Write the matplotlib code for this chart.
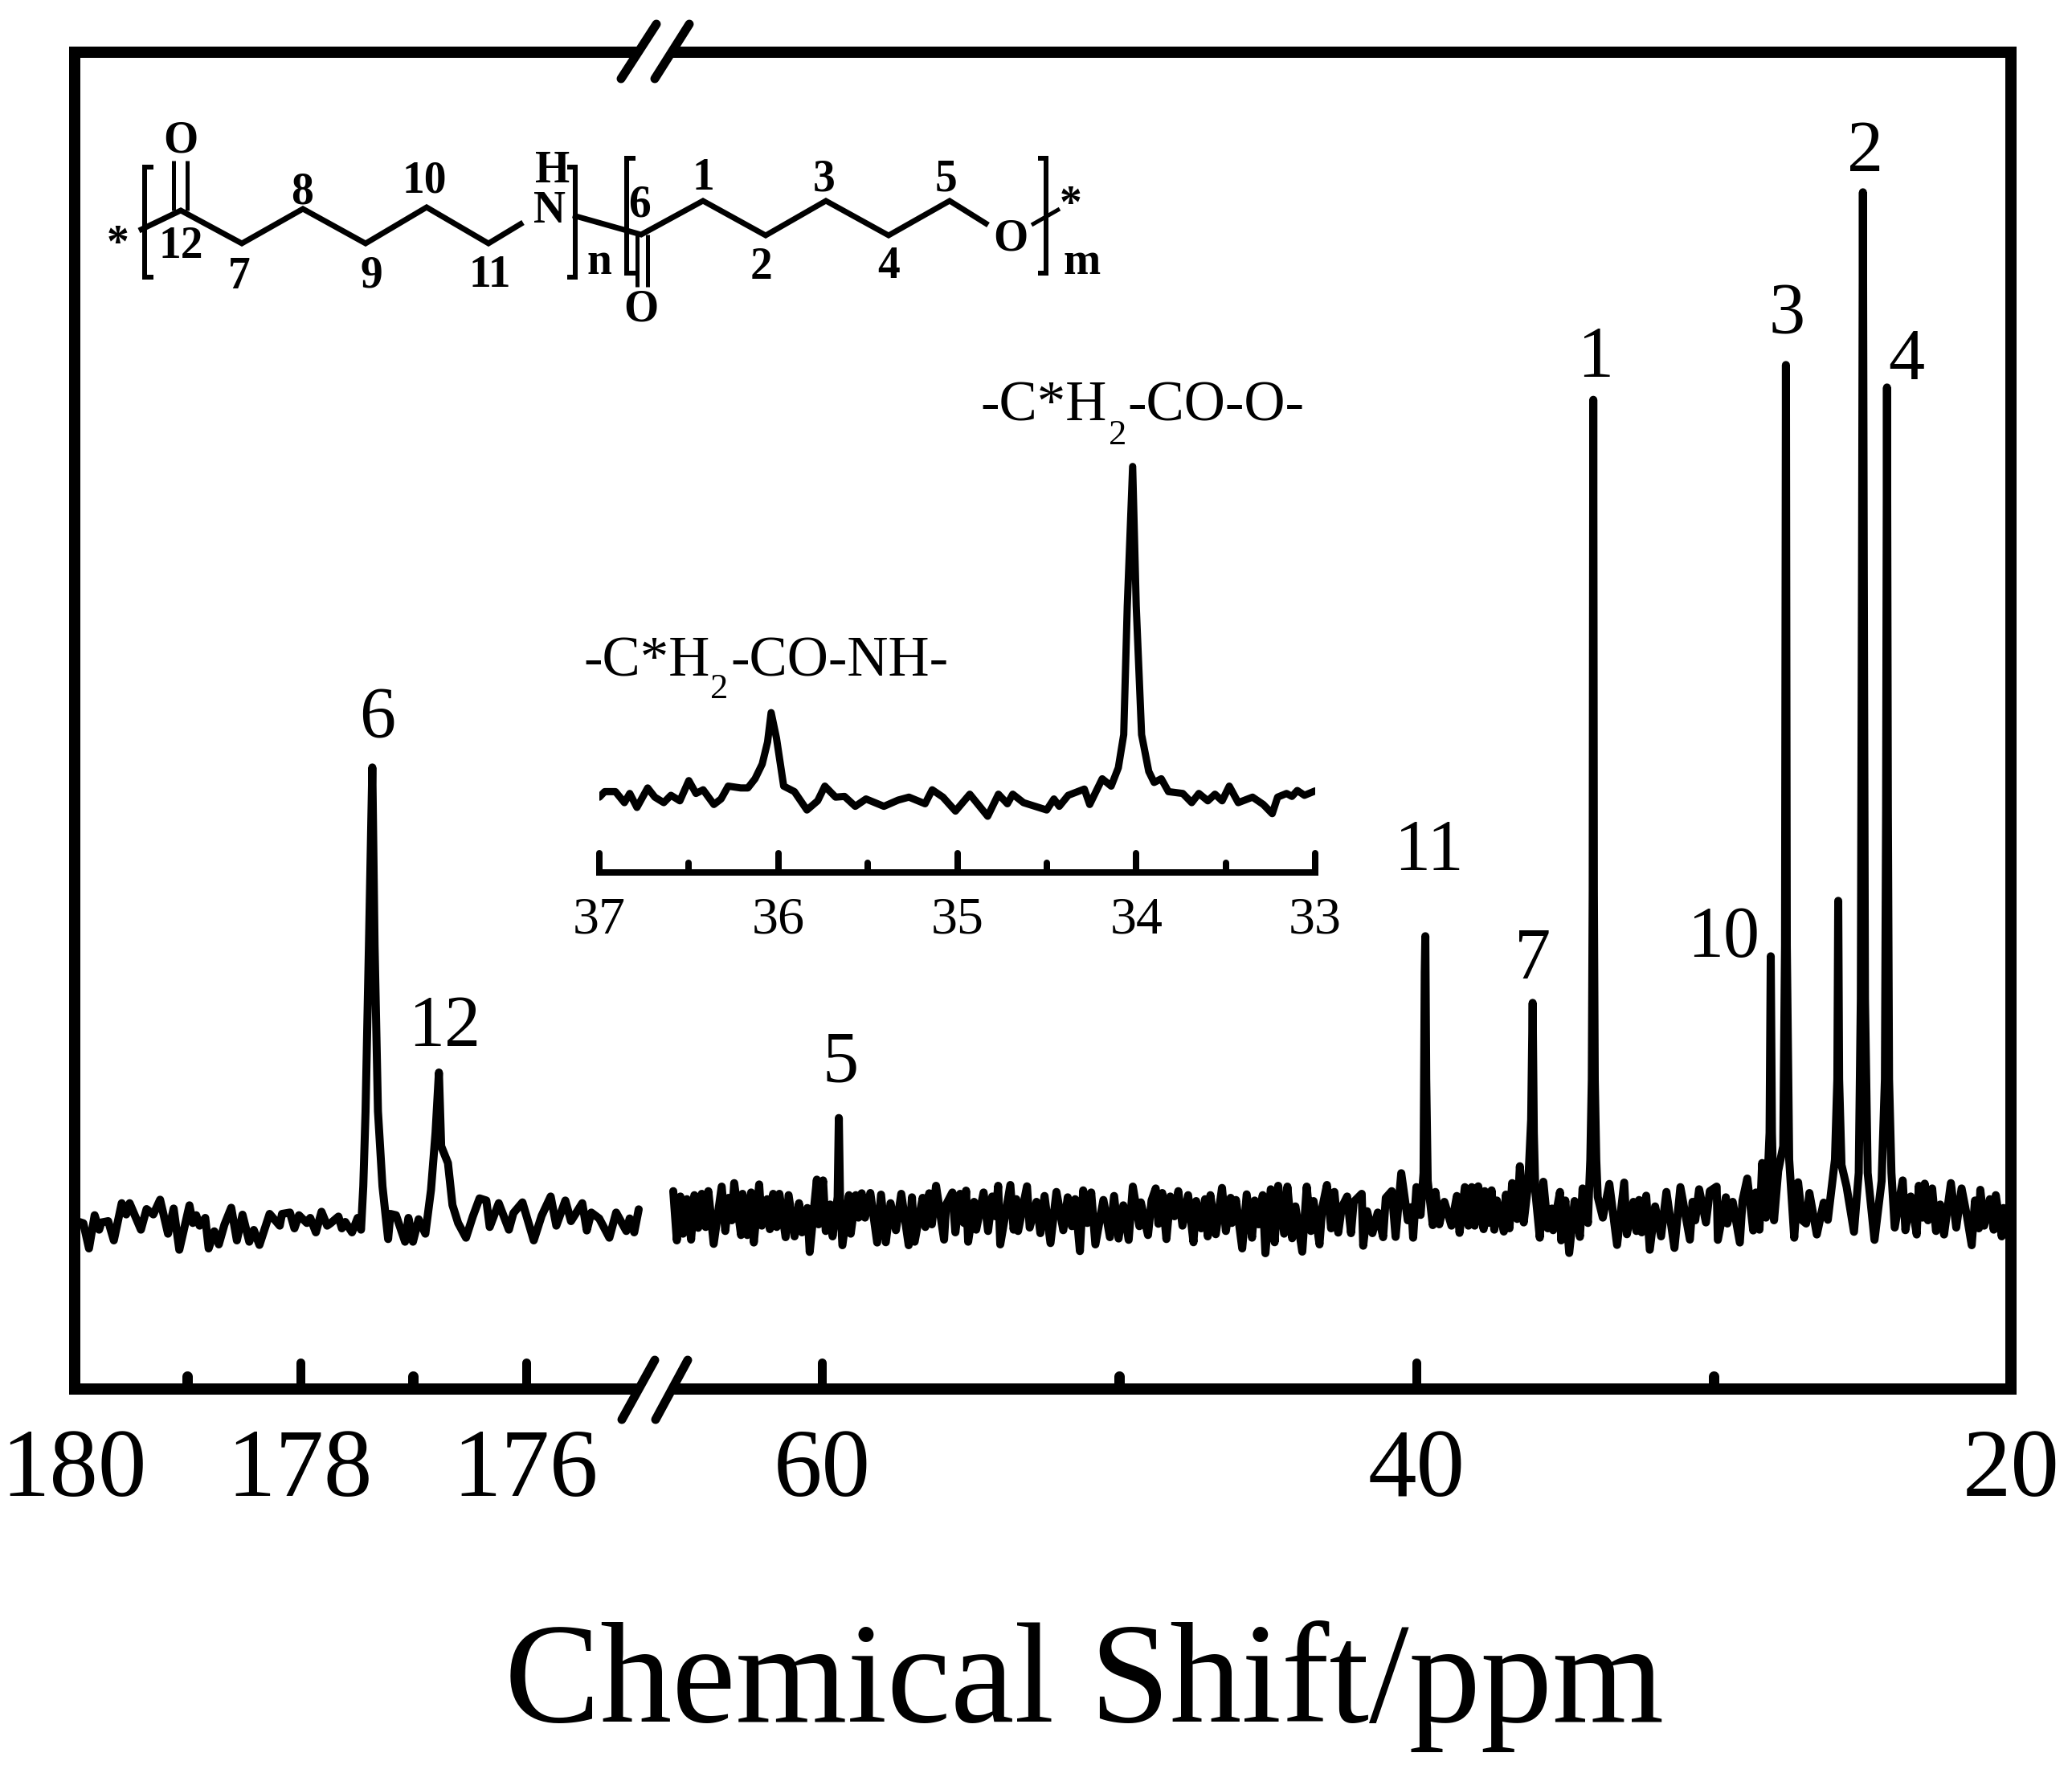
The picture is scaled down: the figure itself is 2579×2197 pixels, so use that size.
"""13C NMR spectrum with broken ppm axis, inset and polymer repeat unit sketch."""

import matplotlib
matplotlib.use("Agg")
import matplotlib.pyplot as plt
import numpy as np
from matplotlib.markers import MarkerStyle, TICKUP
from matplotlib.ticker import FixedLocator, NullFormatter

W, H = 2579, 2197
DPI = 100

plt.rcParams["font.family"] = ["Liberation Serif", "DejaVu Serif"]

# spectrum, (ppm, intensity a.u.)
carbonyl_a = [
    (179.98, -30), (179.92, -38), (179.87, -132), (179.82, -8), (179.78, -62), (179.76, -35),
    (179.70, -30), (179.65, -102), (179.58, 37), (179.54, -5), (179.51, 37), (179.41, -62),
    (179.36, 15), (179.30, -5), (179.24, 50), (179.17, -77), (179.12, 17), (179.07, -137),
    (178.98, 29), (178.95, -37), (178.92, -8), (178.89, -47), (178.84, -18), (178.81, -132),
    (178.76, -68), (178.72, -117), (178.67, -43), (178.61, 20), (178.56, -102), (178.51, -6),
    (178.45, -107), (178.41, -63), (178.36, -119), (178.27, -3), (178.18, -47), (178.16, -3),
    (178.09, 2), (178.05, -57), (178.01, -8), (177.94, -37), (177.91, -18), (177.86, -72),
    (177.81, 5), (177.76, -47), (177.73, -38), (177.66, -13), (177.63, -57), (177.60, -33),
    (177.54, -72), (177.49, -18), (177.46, -62),
]
carbonyl_b = [
    (177.44, 100), (177.42, 380), (177.39, 1000), (177.36, 1664), (177.34, 1000), (177.31, 380),
    (177.27, 100), (177.22, -97), (177.20, -3), (177.15, -8), (177.07, -107), (177.04, -18),
    (177.00, -107), (176.95, -23), (176.89, -77), (176.84, 87), (176.80, 300), (176.77, 525),
    (176.75, 250), (176.69, 187), (176.65, 30), (176.60, -37), (176.53, -92), (176.47, -13),
    (176.41, 55), (176.35, 47), (176.32, -52), (176.24, 37), (176.15, -62), (176.11, 0),
    (176.03, 40), (175.93, -102), (175.86, -10), (175.78, 62), (175.73, -47), (175.65, 47),
    (175.60, -30), (175.50, 37), (175.46, -65), (175.42, 2), (175.35, -20), (175.26, -92),
    (175.20, 2), (175.11, -67), (175.08, -20), (175.04, -72), (175.00, 14),
]
aliphatic_a = [
    (65.00, 82), (64.88, -102), (64.76, 62), (64.67, -77), (64.54, 52), (64.40, -99), (64.29, 67),
    (64.16, -55), (64.04, 72), (63.91, -52), (63.82, 82), (63.64, -115), (63.37, 99), (63.25, -67),
    (63.14, 57), (63.03, -27), (62.95, 112), (62.72, -82), (62.67, 72), (62.51, -82), (62.38, 77),
    (62.29, -110), (62.11, 107), (62.02, -47), (61.84, 52), (61.75, -60), (61.64, 72), (61.52, -52),
    (61.43, 72), (61.22, -90), (61.12, 67), (60.92, -87), (60.77, 37), (60.67, -72), (60.49, 19),
    (60.41, -145), (60.17, 125), (60.11, -42), (59.96, 122), (59.87, -67), (59.72, 32), (59.64, -87),
    (59.47, 60), (59.43, 355), (59.39, 60), (59.31, -120), (59.09, 67), (59.03, -77), (58.86, 67),
    (58.77, -17), (58.66, 74), (58.55, -17), (58.37, 75), (58.14, -110), (58.01, 69), (57.85, -109),
    (57.69, 37), (57.51, -64), (57.33, 72), (57.08, -120), (56.97, 59), (56.88, -107), (56.61, 57),
    (56.52, -52), (56.39, 74), (56.30, -42), (56.16, 102), (55.89, -99), (55.82, 32), (55.61, 77),
    (55.51, -72), (55.35, 72), (55.22, -37), (55.15, 84), (55.08, -107), (54.88, 42), (54.81, -62),
    (54.56, 77), (54.41, -67), (54.27, 62), (54.16, -12), (54.07, 102), (54.00, -117), (53.66, 105),
    (53.55, -62),
]
aliphatic_b = [
    (53.46, 52), (53.40, -67), (53.10, 100), (53.01, -54), (52.78, 42), (52.65, -75), (52.51, 64),
    (52.31, -112), (52.11, 79), (51.88, -64), (51.73, 59), (51.59, -49), (51.48, 52), (51.32, -142),
    (51.21, 85), (51.07, -37), (50.94, 77), (50.80, -117), (50.53, 49), (50.31, -90), (50.17, 64),
    (50.02, -95), (49.86, 29), (49.68, -100), (49.54, 99), (49.32, -49), (49.27, 40), (49.03, -82),
    (48.91, 47), (48.77, 92), (48.68, -40), (48.55, 75), (48.41, -97), (48.28, 62), (48.14, -12),
    (48.01, 82), (47.87, -47), (47.68, 67), (47.50, -109), (47.41, 45), (47.24, -57), (47.11, 52),
    (47.02, -87), (46.93, 67), (46.75, -79), (46.54, 94), (46.41, -67), (46.25, 57), (46.21, -37),
    (46.07, 49), (45.86, -132), (45.71, 70), (45.53, -92), (45.44, 47), (45.31, -42), (45.17, 67),
    (45.08, -150), (44.90, 89), (44.77, -109), (44.65, 102), (44.45, -77), (44.34, 99), (44.18, -94),
    (44.07, 25), (43.84, -144), (43.69, 99), (43.55, -67), (43.46, 45), (43.26, -117), (43.17, 19),
    (43.01, 105), (42.87, -57), (42.76, 79), (42.63, -73), (42.51, 22), (42.33, 62), (42.20, -75),
]
aliphatic_c = [
    (42.11, 42), (41.84, 72), (41.79, -122), (41.66, 7), (41.48, -75), (41.30, 2), (41.12, -90),
    (41.03, 57), (40.83, 82), (40.70, -89), (40.51, 149), (40.29, -27), (40.17, 22), (40.11, -92),
    (40.00, 97), (39.86, -7), (39.76, 150), (39.72, 900), (39.70, 1034), (39.67, 500), (39.62, 120),
    (39.45, -45), (39.36, 79), (39.23, -42), (39.06, 42), (38.82, -47), (38.64, 64), (38.55, -74),
    (38.37, 97), (38.25, -47), (38.14, 97), (38.04, -47), (37.92, 100), (37.74, -60), (37.70, 82),
    (37.59, -37), (37.47, 85), (37.38, -62), (37.29, 47), (37.06, -69), (36.99, 69), (36.87, -57),
    (36.78, 112), (36.61, -22), (36.52, 175), (36.39, -35), (36.24, 110), (36.14, 350), (36.09, 785),
    (36.05, 300), (36.00, 80), (35.85, -92), (35.73, 117), (35.58, -57), (35.44, 17), (35.40, -64),
    (35.17, 79), (35.13, -102), (34.99, 47), (34.86, -149), (34.68, 45), (34.50, -89), (34.41, 92),
    (34.23, -37), (34.20, 60), (34.15, 200), (34.10, 500), (34.07, 1200), (34.05, 3037), (34.03, 1200),
    (34.00, 500), (33.95, 200), (33.90, 60), (33.73, -17), (33.51, 109), (33.25, -119), (33.01, 114),
    (32.92, -79), (32.70, 42), (32.60, -67), (32.51, 49), (32.42, -72), (32.27, 65), (32.15, -137),
    (31.97, 25), (31.77, -87), (31.59, 79), (31.32, -130), (31.12, 97),
]
aliphatic_d = [
    (30.80, -99), (30.71, 42), (30.62, -27), (30.49, 89), (30.26, -35), (30.13, 82), (29.90, 99),
    (29.86, -100), (29.59, 59), (29.54, -39), (29.36, 42), (29.12, -110), (29.03, 47), (28.87, 129),
    (28.67, -65), (28.58, 77), (28.46, -62), (28.37, 187), (28.24, -17), (28.12, 300), (28.08, 959),
    (28.04, 300), (27.97, -27), (27.83, 157), (27.66, 250), (27.60, 1000), (27.57, 3167), (27.54, 1000),
    (27.46, 200), (27.29, -92), (27.16, 115), (27.02, -27), (26.89, -39), (26.78, 75), (26.53, -80),
    (26.30, 39), (26.16, -25), (25.92, 200), (25.84, 500), (25.81, 1166), (25.78, 500), (25.70, 180),
    (25.53, 99), (25.28, -70), (25.12, 150), (25.05, 800), (25.01, 2400), (24.98, 3812), (24.95, 2400),
    (24.91, 800), (24.82, 150), (24.59, -100), (24.35, 120), (24.24, 500), (24.20, 1500), (24.17, 3083),
    (24.14, 1500), (24.10, 500), (24.02, 150), (23.91, -54), (23.64, 122), (23.55, -64), (23.37, 62),
    (23.17, -80), (23.10, 102), (22.97, -17), (22.90, 110), (22.79, -27), (22.65, 92), (22.52, -67),
    (22.38, 32), (22.25, -80), (22.02, 112), (21.84, -54), (21.66, 92), (21.48, -12), (21.32, -120),
    (21.21, 47), (21.08, -57), (21.03, 87), (20.90, -47), (20.71, 52), (20.58, -62), (20.51, 67),
    (20.31, -87), (20.25, 19), (20.00, -40),
]
inset_trace = [
    (37.00, -10), (36.97, 5), (36.91, 5), (36.86, -25), (36.83, 0), (36.79, -38), (36.73, 15),
    (36.69, -10), (36.64, -25), (36.60, -5), (36.55, -20), (36.50, 35), (36.46, 0), (36.42, 10),
    (36.36, -30), (36.32, -15), (36.28, 20), (36.21, 15), (36.17, 15), (36.13, 40), (36.09, 80),
    (36.06, 140), (36.04, 220), (36.01, 150), (35.97, 20), (35.91, 5), (35.84, -45), (35.78, -20),
    (35.74, 20), (35.68, -10), (35.63, -8), (35.57, -35), (35.51, -15), (35.41, -35), (35.33, -18),
    (35.27, -10), (35.18, -28), (35.14, 10), (35.08, -10), (35.01, -48), (34.93, -2), (34.83, -62),
    (34.77, -2), (34.72, -28), (34.69, -2), (34.63, -25), (34.50, -45), (34.46, -15), (34.43, -35),
    (34.38, -5), (34.29, 12), (34.26, -30), (34.19, 40), (34.14, 20), (34.10, 70), (34.07, 160),
    (34.05, 510), (34.02, 890), (34.00, 510), (33.97, 160), (33.93, 60), (33.90, 30), (33.86, 40),
    (33.82, 5), (33.74, 0), (33.69, -25), (33.65, 0), (33.60, -20), (33.56, -2), (33.52, -20),
    (33.48, 20), (33.43, -25), (33.35, -10), (33.29, -30), (33.24, -55), (33.21, -10), (33.16, 0),
    (33.13, -8), (33.10, 8), (33.06, -5), (33.00, 7),
]

major_ticks = [180, 178, 176, 60, 40, 20]
minor_ticks = [179, 177, 50, 30]
major_labels = ["180", "178", "176", "60", "40", "20"]
inset_major = [37, 36, 35, 34, 33]
inset_minor = [36.5, 35.5, 34.5, 33.5]

# peak number, x px, baseline y px
peak_labels = [
    ("2", 2322, 213), ("3", 2224, 415), ("4", 2373, 472), ("1", 1986, 469), ("6", 470, 918),
    ("12", 553, 1302), ("5", 1046, 1346), ("11", 1778, 1083), ("7", 1908, 1218), ("10", 2145, 1191),
]

# inset annotation pieces: text, x px, baseline y px, size
group_labels = [
    ("-C*H", 726, 841, 51), ("2", 884, 869, 32), ("-CO-NH-", 909, 841, 51),
    ("-C*H", 1220, 523, 51), ("2", 1380, 553, 32), ("-CO-O-", 1403, 523, 51),
]

# repeat unit sketch, pixels
chain_1 = [(173, 287), (225, 262), (301, 303), (377, 260), (455, 303), (531, 258), (608, 303), (651, 277)]
chain_2 = [(713, 268), (798, 292), (875, 250), (953, 293), (1028, 250), (1106, 293), (1182, 250), (1230, 280)]
short_bonds = [
    [(216, 262), (216, 200)], [(233, 262), (233, 200)],
    [(793, 292), (793, 357)], [(806, 292), (806, 357)],
    [(1284, 280), (1319, 260)],
]
brackets = [
    [(191, 208), (180, 208), (180, 345), (191, 345)],
    [(706, 208), (716, 208), (716, 345), (706, 345)],
    [(791, 197), (780, 197), (780, 340), (791, 340)],
    [(1292, 197), (1302, 197), (1302, 340), (1292, 340)],
]
sketch_labels = [
    ("O", 225, 175), ("*", 147, 305), ("12", 225, 307), ("7", 298, 345), ("8", 376, 239),
    ("9", 462, 343), ("10", 528, 226), ("11", 610, 343), ("H", 688, 213), ("N", 684, 263),
    ("n", 746, 327), ("6", 796, 255), ("1", 875, 222), ("2", 948, 333), ("3", 1026, 223),
    ("4", 1106, 332), ("5", 1177, 224), ("O", 798, 385), ("O", 1258, 297), ("*", 1333, 256),
    ("m", 1347, 327),
]
break_marks = [
    [(773, 98), (817, 30)], [(815, 98), (858, 30)],
    [(774, 1767), (815, 1693)], [(816, 1767), (856, 1693)],
]


def pts(px):
    return px * 72.0 / DPI


def ax_rect(x0, y0, x1, y1):
    return [x0 / W, 1 - y1 / H, (x1 - x0) / W, (y1 - y0) / H]


def round_ticks(axis_obj):
    for tick in axis_obj.get_major_ticks() + axis_obj.get_minor_ticks():
        tick.tick1line.set_marker(MarkerStyle(TICKUP, capstyle="round"))


# axis is linear on 180-175 and 65-20 with a short jump between
PPM_KNOTS = [20, 65, 175, 180]
POS_KNOTS = [0, 1665, 1708, 2410.5]


def ppm_to_pos(v):
    return np.interp(v, PPM_KNOTS, POS_KNOTS)


def pos_to_ppm(v):
    return np.interp(v, POS_KNOTS, PPM_KNOTS)


fig = plt.figure(figsize=(W / DPI, H / DPI), dpi=DPI)

ax = fig.add_axes(ax_rect(92.5, 65, 2503, 1729))
ax.set_xscale("function", functions=(ppm_to_pos, pos_to_ppm))
ax.set_xlim(180, 20)
ax.set_ylim(-657, 4335)
ax.set_yticks([])

line_kw = dict(color="black", lw=pts(10), solid_joinstyle="round", solid_capstyle="round")
left = np.array(carbonyl_a + carbonyl_b)
right = np.array(aliphatic_a + aliphatic_b + aliphatic_c + aliphatic_d)
ax.plot(left[:, 0], left[:, 1], **line_kw)
ax.plot(right[:, 0], right[:, 1], **line_kw)

ax.xaxis.set_major_locator(FixedLocator(major_ticks))
ax.xaxis.set_minor_locator(FixedLocator(minor_ticks))
ax.set_xticklabels(major_labels)
ax.xaxis.set_minor_formatter(NullFormatter())
ax.tick_params(axis="x", which="major", direction="in", length=pts(33.5), width=pts(11), labelsize=87, pad=pts(49))
ax.tick_params(axis="x", which="minor", direction="in", length=pts(16.5), width=pts(13))
round_ticks(ax.xaxis)

frame_lw = pts(14)
ax.spines["top"].set_visible(False)
ax.spines["bottom"].set_visible(False)
ax.spines["left"].set_linewidth(frame_lw)
ax.spines["right"].set_linewidth(frame_lw)
for y in (0, 1):
    for seg in ([180, 175], [65, 20]):
        ax.plot(seg, [y, y], transform=ax.get_xaxis_transform(), color="black", lw=frame_lw,
                clip_on=False, solid_capstyle="butt")

for txt, x, y in peak_labels:
    fig.text(x / W, 1 - y / H, txt, fontsize=65, ha="center", va="baseline")

fig.text(1349 / W, 1 - 2143 / H, "Chemical Shift/ppm", fontsize=128.5, ha="center", va="baseline")

# inset
ins = fig.add_axes(ax_rect(746, 571.5, 1637, 1086))
ins.patch.set_visible(False)
ins.set_xlim(37, 33)
ins.set_ylim(-215, 910)
ins.set_yticks([])
trace = np.array(inset_trace)
ins.plot(trace[:, 0], trace[:, 1], color="black", lw=pts(9), solid_joinstyle="round", solid_capstyle="round")
ins.xaxis.set_major_locator(FixedLocator(inset_major))
ins.xaxis.set_minor_locator(FixedLocator(inset_minor))
ins.set_xticklabels([str(v) for v in inset_major])
ins.xaxis.set_minor_formatter(NullFormatter())
ins.tick_params(axis="x", which="major", direction="in", length=pts(23.5), width=pts(8), labelsize=47.5, pad=pts(30))
ins.tick_params(axis="x", which="minor", direction="in", length=pts(12), width=pts(8))
round_ticks(ins.xaxis)
for side in ("top", "left", "right"):
    ins.spines[side].set_visible(False)
ins.spines["bottom"].set_linewidth(pts(8))

for txt, x, y, size in group_labels:
    fig.text(x / W, 1 - y / H, txt, fontsize=size, ha="left", va="baseline")

# overlay in pixels for the axis breaks and the repeat unit
over = fig.add_axes([0, 0, 1, 1])
over.set_xlim(0, W)
over.set_ylim(H, 0)
over.axis("off")

for seg in break_marks:
    xs, ys = zip(*seg)
    over.plot(xs, ys, color="black", lw=pts(11), solid_capstyle="round")

for seg in [chain_1, chain_2]:
    xs, ys = zip(*seg)
    over.plot(xs, ys, color="black", lw=pts(7), solid_joinstyle="miter", solid_capstyle="butt")
for seg in short_bonds:
    xs, ys = zip(*seg)
    over.plot(xs, ys, color="black", lw=pts(5), solid_capstyle="butt")
for seg in brackets:
    xs, ys = zip(*seg)
    over.plot(xs, ys, color="black", lw=pts(6), solid_joinstyle="miter", solid_capstyle="butt")
for txt, x, y in sketch_labels:
    over.text(x, y, txt, fontsize=40, fontweight="bold", ha="center", va="center")

fig.savefig("out.png", dpi=DPI)
